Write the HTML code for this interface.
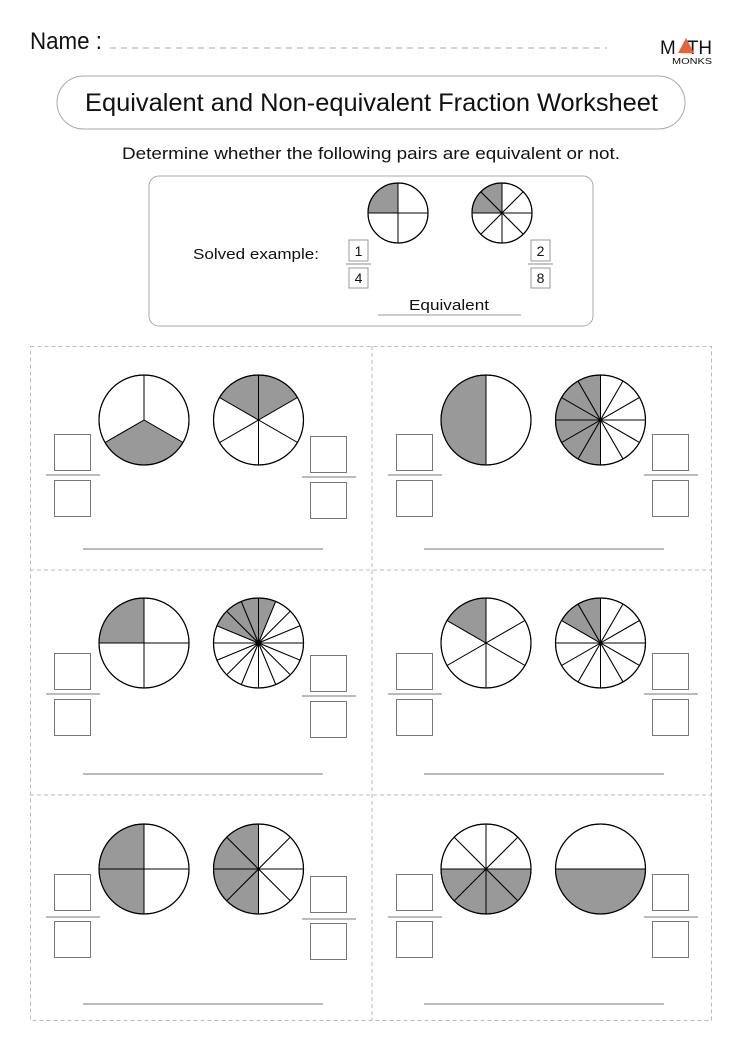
<!DOCTYPE html>
<html><head><meta charset="utf-8"><style>
html,body{margin:0;padding:0;background:#fff;}
svg{display:block;}
text{font-family:"Liberation Sans",sans-serif;fill:#111;}
</style></head><body>
<svg id="s" width="742" height="1050" viewBox="0 0 742 1050" xmlns="http://www.w3.org/2000/svg">
<rect width="742" height="1050" fill="#fff"/>
<text x="30" y="49" font-size="24" textLength="72" lengthAdjust="spacingAndGlyphs">Name :</text>
<line x1="110" y1="48" x2="607" y2="48" stroke="#aaa" stroke-width="1" stroke-dasharray="6,5"/>
<text x="660" y="54" font-size="19" textLength="52" lengthAdjust="spacingAndGlyphs">M<tspan fill="#fff">A</tspan>TH</text>
<polygon points="678,53 686,38 694,53" fill="#e8623b"/>
<text x="672" y="64" font-size="8" textLength="40" lengthAdjust="spacingAndGlyphs">MONKS</text>
<rect x="57" y="76" width="628" height="53" rx="26.5" fill="none" stroke="#aaa" stroke-width="1"/>
<text x="85" y="111" font-size="25" textLength="573" lengthAdjust="spacingAndGlyphs">Equivalent and Non-equivalent Fraction Worksheet</text>
<text x="122" y="159" font-size="17" textLength="498" lengthAdjust="spacingAndGlyphs">Determine whether the following pairs are equivalent or not.</text>
<rect x="149" y="176" width="444" height="150" rx="10" fill="none" stroke="#aaa" stroke-width="1"/>
<text x="193" y="259" font-size="15" textLength="126" lengthAdjust="spacingAndGlyphs">Solved example:</text>
<rect x="349" y="240" width="19" height="21" fill="none" stroke="#999"/>
<text x="358.5" y="256" font-size="14" text-anchor="middle">1</text>
<line x1="346" y1="264" x2="371" y2="264" stroke="#888"/>
<rect x="349" y="268" width="19" height="20" fill="none" stroke="#999"/>
<text x="358.5" y="283" font-size="14" text-anchor="middle">4</text>
<rect x="531" y="240" width="19" height="21" fill="none" stroke="#999"/>
<text x="540.5" y="256" font-size="14" text-anchor="middle">2</text>
<line x1="528" y1="264" x2="553" y2="264" stroke="#888"/>
<rect x="531" y="268" width="19" height="20" fill="none" stroke="#999"/>
<text x="540.5" y="283" font-size="14" text-anchor="middle">8</text>
<text x="449" y="310" font-size="15" text-anchor="middle" textLength="80" lengthAdjust="spacingAndGlyphs">Equivalent</text>
<line x1="378" y1="315" x2="521" y2="315" stroke="#999"/>
<rect x="30.5" y="346.5" width="681" height="674" fill="none" stroke="#bbb" stroke-dasharray="4,3"/>
<line x1="372" y1="346" x2="372" y2="1021" stroke="#bbb" stroke-dasharray="4,3"/>
<line x1="30" y1="570" x2="712" y2="570" stroke="#bbb" stroke-dasharray="4,3"/>
<line x1="30" y1="795" x2="712" y2="795" stroke="#bbb" stroke-dasharray="4,3"/>
<g id="g"></g>
</svg>
<script>
var g=document.getElementById('g'),h='';
function pie(cx,cy,r,n,sh,off){off=off||0;var s='';
for(var i=0;i<n;i++){var a0=(i*360/n+off)*Math.PI/180,a1=((i+1)*360/n+off)*Math.PI/180;
var x0=cx+r*Math.sin(a0),y0=cy-r*Math.cos(a0),x1=cx+r*Math.sin(a1),y1=cy-r*Math.cos(a1);
var large=(360/n>180)?1:0;
s+='<path d="M'+cx+','+cy+' L'+x0.toFixed(2)+','+y0.toFixed(2)+' A'+r+','+r+' 0 '+large+' 1 '+x1.toFixed(2)+','+y1.toFixed(2)+' Z" fill="'+(sh.indexOf(i)>=0?'#999':'#fff')+'" stroke="#000" stroke-width="1"/>';}
s+='<circle cx="'+cx+'" cy="'+cy+'" r="'+r+'" fill="none" stroke="#000" stroke-width="1.2"/>';
h+=s;}
function frac(x,y1,y2,ly){h+='<rect x="'+(x+.5)+'" y="'+(y1+.5)+'" width="36" height="36" fill="none" stroke="#777"/><rect x="'+(x+.5)+'" y="'+(y2+.5)+'" width="36" height="36" fill="none" stroke="#777"/><line x1="'+(x-8)+'" y1="'+ly+'" x2="'+(x+46)+'" y2="'+ly+'" stroke="#777"/>';}
pie(398,213,30,4,[3]);pie(502,213,30,8,[6,7]);
var rows=[{cy:420,b1:434,b2:480,l:475,a:549},{cy:643,b1:653,b2:699,l:694,a:774},{cy:869,b1:874,b2:921,l:917,a:1004}];
var P=[[[3,[1]],[6,[0,5]],[2,[1]],[12,[6,7,8,9,10,11]]],
[[4,[3]],[16,[0,13,14,15]],[6,[5]],[12,[10,11]]],
[[4,[2,3]],[8,[4,5,6,7]],[8,[2,3,4,5]],[2,[0],90]]];
rows.forEach(function(r,k){var p=P[k];
pie(144,r.cy,45,p[0][0],p[0][1]);pie(258.5,r.cy,45,p[1][0],p[1][1]);
pie(486,r.cy,45,p[2][0],p[2][1]);pie(600.5,r.cy,45,p[3][0],p[3][1],p[3][2]);
frac(54,r.b1,r.b2,r.l);frac(310,r.b1+2,r.b2+2,r.l+2);frac(396,r.b1,r.b2,r.l);frac(652,r.b1,r.b2,r.l);
h+='<line x1="83" y1="'+r.a+'" x2="323" y2="'+r.a+'" stroke="#777"/><line x1="424" y1="'+r.a+'" x2="664" y2="'+r.a+'" stroke="#777"/>';});
g.innerHTML=h;
</script>
</body></html>
